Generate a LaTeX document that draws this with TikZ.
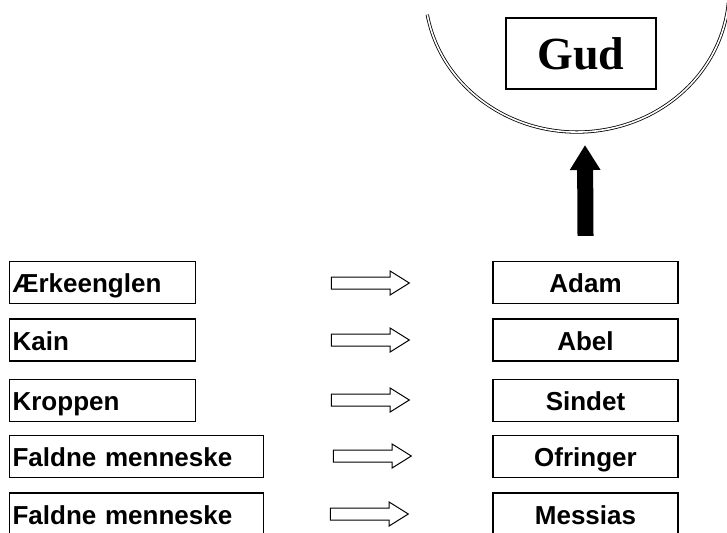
\documentclass[tikz,border=0pt]{standalone}
\usepackage{fontspec}
\setmainfont{Liberation Serif}
\setsansfont{Liberation Sans}
\usetikzlibrary{arrows.meta,shapes.arrows}

\begin{document}
\begin{tikzpicture}[x=1pt,y=-1pt,
    namebox/.style={draw,line width=1.2pt,minimum height=42pt,inner xsep=3pt,
      text height=23pt,text depth=3pt,
      font=\sffamily\bfseries\fontsize{26}{28}\selectfont},
    leftbox/.style={namebox,anchor=west,align=left,text width=#1},
    rightbox/.style={namebox,minimum width=185pt},
    hollow/.style={single arrow,draw,line width=1pt,minimum height=78pt,
      minimum width=23pt,single arrow head extend=6pt,single arrow tip angle=64,
      inner xsep=0pt,inner ysep=5.5pt}]
  \useasboundingbox (0,0) rectangle (727,532);
  \clip (0,0) rectangle (727,532);
  % the bowl round Gud
  \begin{scope}[y=1pt]
    \draw[line width=0.8pt,double,double distance=1.6pt]
      (427.3,-14.7) arc[start angle=190,end angle=355,x radius=152pt,y radius=142pt];
  \end{scope}
  \node[draw,line width=1.2pt,minimum width=150pt,minimum height=71pt,
    font=\rmfamily\bfseries\fontsize{46}{50}\selectfont] (gud) at (581,53.5) {Gud};
  % left column
  \node[leftbox=180pt] (aerk) at (9,282.5) {Ærkeenglen};
  \node[leftbox=180pt] (kain) at (9,340) {Kain};
  \node[leftbox=180pt] (krop) at (9,400.5) {Kroppen};
  \node[leftbox=248pt] (fald1) at (9,456.5) {Faldne menneske};
  \node[leftbox=248pt] (fald2) at (9,514) {Faldne menneske};
  % right column
  \node[rightbox] (adam) at (585.5,282.5) {Adam};
  \node[rightbox] (abel) at (585.5,340) {Abel};
  \node[rightbox] (sind) at (585.5,400.5) {Sindet};
  \node[rightbox] (ofr) at (585.5,456.5) {Ofringer};
  \node[rightbox] (mess) at (585.5,514) {Messias};
  % hollow arrows
  \node[hollow] (a1) at (365.5,283) {};
  \node[hollow] (a2) at (365.5,340) {};
  \node[hollow] (a3) at (365.5,400) {};
  \node[hollow] (a4) at (367.5,456) {};
  \node[hollow] (a5) at (364.5,514) {};
  % up to Gud
  \coordinate (upfoot) at ([yshift=25pt]adam.north);
  \coordinate (uptip) at (585,145);
  \draw[line width=16pt,-{Triangle[length=25pt,width=29pt]}] (upfoot) -- (uptip);
\end{tikzpicture}
\end{document}
